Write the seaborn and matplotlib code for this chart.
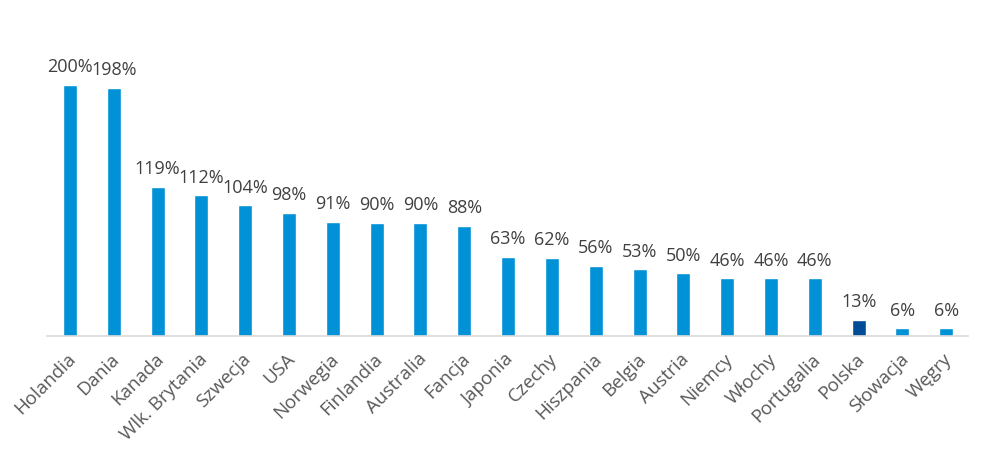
import numpy as np
import matplotlib.pyplot as plt
import matplotlib.transforms as mtransforms
import seaborn as sns
import pandas as pd

kraje = ["Holandia", "Dania", "Kanada", "Wlk. Brytania", "Szwecja", "USA",
         "Norwegia", "Finlandia", "Australia", "Fancja", "Japonia", "Czechy",
         "Hiszpania", "Belgia", "Austria", "Niemcy", "Włochy", "Portugalia",
         "Polska", "Słowacja", "Węgry"]
wartosci = [200, 198, 119, 112, 104, 98, 91, 90, 90, 88, 63, 62,
            56, 53, 50, 46, 46, 46, 13, 6, 6]

kolory = ["#004C97" if k == "Polska" else "#0091D7" for k in kraje]

sns.set_theme(style="white")
plt.rcParams['font.family'] = ['Open Sans', 'DejaVu Sans']

df = pd.DataFrame({"kraj": kraje, "wartosc": wartosci})

fig = plt.figure(figsize=(9.93, 4.52), dpi=100)
ax = fig.add_axes([0.047, 0.2544, 0.928, 0.72])
sns.barplot(data=df, x="kraj", y="wartosc", hue="kraj", palette=kolory,
            width=0.32, legend=False, saturation=1, ax=ax)

ax.set_xlim(-0.53, 20.5)
ax.set_ylim(0, 0.72 * 452 / 1.255)
for i, v in enumerate(wartosci):
    ax.annotate(f"{v}%", (i, v), xytext=(0, 7), textcoords="offset points",
                ha="center", va="bottom", fontsize=13, color="#404040")

ax.set_xlabel("")
ax.set_ylabel("")
ax.set_yticks([])
for s in ["left", "right", "top"]:
    ax.spines[s].set_visible(False)
ax.spines["bottom"].set_color("#D9D9D9")
ax.spines["bottom"].set_linewidth(1.2)
ax.tick_params(axis="x", length=0, pad=14, labelsize=13.5, labelcolor="#595959")
przesun = mtransforms.ScaledTranslation(3 / 100, 0, fig.dpi_scale_trans)
for lab in ax.get_xticklabels():
    lab.set_rotation(45)
    lab.set_ha("right")
    lab.set_va("center")
    lab.set_rotation_mode("anchor")
    lab.set_transform(lab.get_transform() + przesun)

fig.savefig("out.png", dpi=100)
